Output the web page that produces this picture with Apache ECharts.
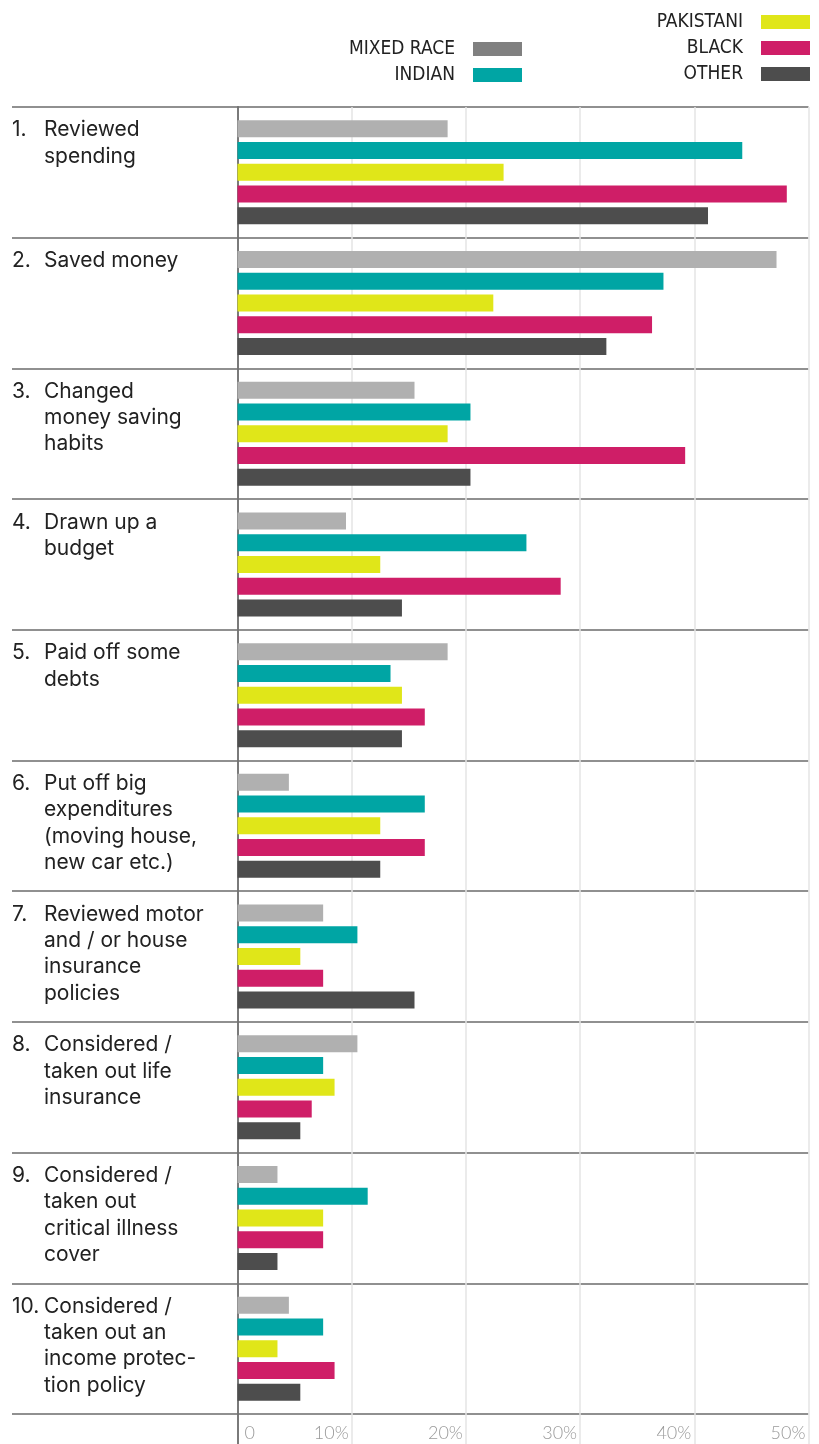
<!DOCTYPE html>
<html>
<head>
<meta charset="utf-8">
<script src="https://cdn.jsdelivr.net/npm/echarts@6/dist/echarts.min.js"></script>
<style>
  html, body { margin: 0; padding: 0; background: #fff; }
  #chart { width: 819px; height: 1444px; }
</style>
</head>
<body>
<div id="chart"></div>
<script>
// Actions taken, with the line breaks used in the left-hand column
const categories = [
  'Reviewed\nspending',
  'Saved money',
  'Changed\nmoney saving\nhabits',
  'Drawn up a\nbudget',
  'Paid off some\ndebts',
  'Put off big\nexpenditures\n(moving house,\nnew car etc.)',
  'Reviewed motor\nand / or house\ninsurance\npolicies',
  'Considered /\ntaken out life\ninsurance',
  'Considered /\ntaken out\ncritical illness\ncover',
  'Considered /\ntaken out an\nincome protec-\ntion policy'
];

const seriesNames = ['MIXED RACE', 'INDIAN', 'PAKISTANI', 'BLACK', 'OTHER'];

// Share of each group (%)
const mixedRace = [18.4, 47.2, 15.5, 9.5, 18.4, 4.5, 7.5, 10.5, 3.5, 4.5];
const indian    = [44.2, 37.3, 20.4, 25.3, 13.4, 16.4, 10.5, 7.5, 11.4, 7.5];
const pakistani = [23.3, 22.4, 18.4, 12.5, 14.4, 12.5, 5.5, 8.5, 7.5, 3.5];
const black     = [48.1, 36.3, 39.2, 28.3, 16.4, 16.4, 7.5, 6.5, 7.5, 8.5];
const other     = [41.2, 32.3, 20.4, 14.4, 14.4, 12.5, 15.5, 5.5, 3.5, 5.5];

const barColors = ['#b0b0b0', '#00a5a4', '#e0e619', '#cf1e67', '#4d4d4d'];
const legendColors = ['#808080', '#00a5a4', '#e0e619', '#cf1e67', '#4d4d4d'];

const seriesValues = [mixedRace, indian, pakistani, black, other];

const GRID_LEFT = 237.5, GRID_RIGHT = 10.5, GRID_TOP = 107, GRID_BOTTOM = 30;

const chart = echarts.init(document.getElementById('chart'), null, { renderer: 'canvas' });

function catLabel(value, index) {
  if (index >= categories.length) return '';
  const lines = categories[index].split('\n');
  return lines.map((l, j) => '{n|' + (j === 0 ? (index + 1) + '.' : '') + '}{t|' + l + '}').join('\n');
}

const legendText = {
  fontFamily: '"DejaVu Sans Condensed", "Liberation Sans Narrow", sans-serif',
  fontSize: 19,
  lineHeight: 20,
  color: '#222',
  padding: [0, 13, 0, 0]
};

const labelFont = 'Inter, "Open Sans", sans-serif';

const option = {
  animation: false,
  backgroundColor: '#fff',
  legend: [
    {
      orient: 'vertical', align: 'right', right: 297, top: 39, padding: 0,
      itemWidth: 49, itemHeight: 14, itemGap: 6, selectedMode: false,
      icon: 'rect', textStyle: legendText,
      data: [0, 1].map(i => ({ name: seriesNames[i], itemStyle: { color: legendColors[i] } }))
    },
    {
      orient: 'vertical', align: 'right', right: 9, top: 12, padding: 0,
      itemWidth: 49, itemHeight: 14, itemGap: 6, selectedMode: false,
      icon: 'rect', textStyle: legendText,
      data: [2, 3, 4].map(i => ({ name: seriesNames[i], itemStyle: { color: legendColors[i] } }))
    }
  ],
  grid: [
    // bars
    { left: GRID_LEFT, right: GRID_RIGHT, top: GRID_TOP, bottom: GRID_BOTTOM },
    // value gridlines and tick labels, running to the bottom edge
    { left: GRID_LEFT, right: GRID_RIGHT, top: GRID_TOP, bottom: 0 },
    // row separators and row labels across the full width
    { left: 12, right: GRID_RIGHT, top: GRID_TOP, bottom: GRID_BOTTOM }
  ],
  xAxis: [
    { gridIndex: 0, type: 'value', min: 0, max: 50, interval: 10, show: false },
    {
      gridIndex: 1, type: 'value', min: 0, max: 50, interval: 10, position: 'bottom',
      axisLine: { show: false }, axisTick: { show: false },
      splitLine: { show: true, lineStyle: { color: '#e4e4e4', width: 1.5 } },
      axisLabel: {
        inside: true, margin: 2, align: 'right', verticalAlign: 'bottom',
        showMinLabel: true, showMaxLabel: true,
        padding: [0, 3, 0, 0],
        fontFamily: 'Lato, "Open Sans", sans-serif', fontWeight: 300,
        fontSize: 18, color: '#9a9a9a',
        formatter: v => (v === 0 ? '' : v + '%')
      }
    },
    {
      gridIndex: 1, type: 'value', min: 0, max: 50, interval: 10, position: 'bottom',
      axisLine: { show: false }, axisTick: { show: false }, splitLine: { show: false },
      axisLabel: {
        inside: true, margin: 2, align: 'left', verticalAlign: 'bottom',
        showMinLabel: true, padding: [0, 0, 0, 7],
        fontFamily: 'Lato, "Open Sans", sans-serif', fontWeight: 300,
        fontSize: 18, color: '#9a9a9a',
        formatter: v => (v === 0 ? '0' : '')
      }
    },
    { gridIndex: 2, type: 'value', min: 0, max: 1, show: false }
  ],
  yAxis: [
    { gridIndex: 0, type: 'category', inverse: true, data: categories, show: false },
    {
      gridIndex: 1, type: 'value', min: 0, max: 1,
      axisLine: { show: true, lineStyle: { color: '#555', width: 1.5 } },
      axisTick: { show: false }, axisLabel: { show: false }, splitLine: { show: false }
    },
    {
      gridIndex: 2, type: 'category', inverse: true, boundaryGap: false,
      data: categories.concat(['']),
      axisLine: { show: false }, axisTick: { show: false },
      splitLine: { show: true, interval: 0, lineStyle: { color: '#6b6b6b', width: 1.5 } },
      axisLabel: {
        show: true, inside: true, interval: 0, margin: 0,
        align: 'left', verticalAlign: 'top', padding: [10, 0, 0, 0],
        formatter: catLabel,
        rich: {
          n: { width: 32, fontFamily: labelFont, fontSize: 21, lineHeight: 26.3, color: '#222' },
          t: { fontFamily: labelFont, fontSize: 21, lineHeight: 26.3, color: '#222' }
        }
      }
    }
  ],
  series: seriesNames.map((name, i) => ({
    name: name,
    type: 'bar',
    xAxisIndex: 0, yAxisIndex: 0,
    data: seriesValues[i],
    barWidth: 17,
    barGap: '28%',
    itemStyle: { color: barColors[i] },
    emphasis: { disabled: true }
  }))
};

chart.setOption(option);
</script>
</body>
</html>
